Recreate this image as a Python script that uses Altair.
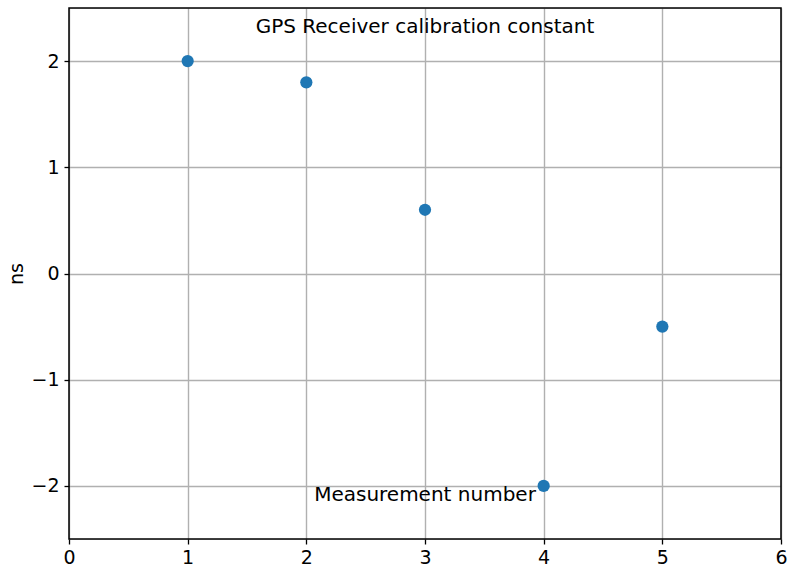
import altair as alt
import pandas as pd

# Calibration measurements (ns)
measurement = [1, 2, 3, 4, 5]
offset_ns = [2.0, 1.8, 0.6, -2.0, -0.5]

title_text = "GPS Receiver calibration constant"
xlabel_text = "Measurement number"

df = pd.DataFrame({"measurement": measurement, "offset": offset_ns})

W, H = 712, 531
FONT = "DejaVu Sans"
TICK_FS = 19
TEXT_FS = 20

x_scale = alt.Scale(domain=[0, 6], nice=False, zero=False)
y_scale = alt.Scale(domain=[-2.5, 2.5], nice=False, zero=False)

points = alt.Chart(df).mark_circle(size=150, opacity=1, color="#1f77b4").encode(
    x=alt.X("measurement:Q", scale=x_scale,
            axis=alt.Axis(title=None, values=[0, 1, 2, 3, 4, 5, 6], format="d",
                          grid=True, gridColor="#b0b0b0", gridWidth=1.4,
                          domain=False, tickColor="black", tickSize=5, tickWidth=1.3,
                          labelFontSize=TICK_FS, labelPadding=4, labelColor="black",
                          labelFont=FONT, labelFlush=False)),
    y=alt.Y("offset:Q", scale=y_scale,
            axis=alt.Axis(title="ns", values=[-2, -1, 0, 1, 2], format="d",
                          grid=True, gridColor="#b0b0b0", gridWidth=1.4,
                          domain=False, tickColor="black", tickSize=5, tickWidth=1.3,
                          labelFontSize=TICK_FS, labelPadding=5, labelColor="black",
                          labelFont=FONT, titleFont=FONT, titleFontSize=TICK_FS,
                          titleFontWeight="normal", titleColor="black",
                          titlePadding=4)),
)

frame = alt.Chart(pd.DataFrame({"a": [0]})).mark_rect(
    fill=None, stroke="black", strokeWidth=1.5
).encode(x=alt.value(0), x2=alt.value(W), y=alt.value(0), y2=alt.value(H))

title = alt.Chart(pd.DataFrame({"t": [title_text]})).mark_text(
    font=FONT, fontSize=TEXT_FS, color="black", baseline="middle", align="center"
).encode(text="t:N", x=alt.value(W / 2), y=alt.value(19))

xlabel = alt.Chart(pd.DataFrame({"t": [xlabel_text]})).mark_text(
    font=FONT, fontSize=TEXT_FS, color="black", baseline="middle", align="center"
).encode(text="t:N", x=alt.value(W / 2), y=alt.value(487))

chart = alt.layer(points, title, xlabel, frame).properties(
    width=W, height=H,
    autosize=alt.AutoSizeParams(type="none"),
    padding={"left": 69, "top": 8, "right": 7, "bottom": 34},
).configure_view(stroke=None).configure(background="white")

chart.save("out.html", embed_options={"renderer": "svg", "actions": False})
